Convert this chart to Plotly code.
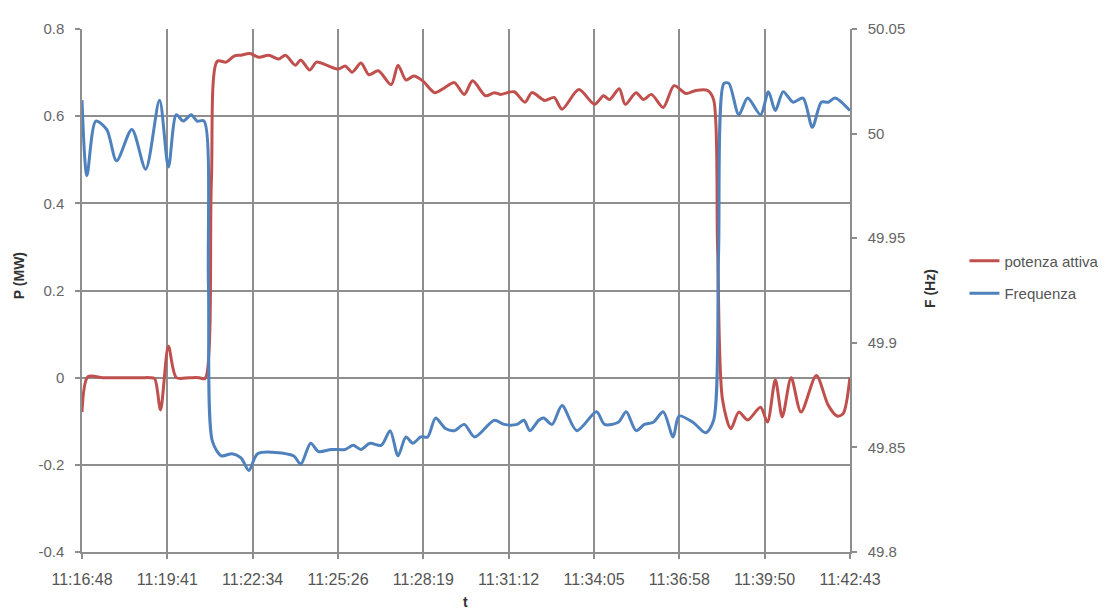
import plotly.graph_objects as go
import pandas as pd

DAY = "2012-05-10 "

# potenza attiva (MW)
p_time = ["11:16:48", "11:17:00", "11:17:30", "11:18:00", "11:18:30", "11:18:50", "11:19:05",
          "11:19:15", "11:19:27", "11:19:43", "11:19:59",
          "11:20:25", "11:20:45", "11:20:57", "11:21:10", "11:21:22", "11:21:40", "11:21:56",
          "11:22:10", "11:22:28", "11:22:46", "11:23:06", "11:23:26", "11:23:40", "11:24:00",
          "11:24:11", "11:24:29", "11:24:43", "11:25:03", "11:25:27", "11:25:41", "11:25:55",
          "11:26:13", "11:26:29", "11:26:48", "11:27:14", "11:27:28", "11:27:44", "11:28:00",
          "11:28:18", "11:28:42", "11:29:02", "11:29:22", "11:29:42", "11:29:59", "11:30:25",
          "11:30:43", "11:30:55", "11:31:23", "11:31:45", "11:31:59", "11:32:25", "11:32:44",
          "11:33:00", "11:33:34", "11:34:06", "11:34:24", "11:34:36", "11:34:56", "11:35:08",
          "11:35:30", "11:35:45", "11:36:01", "11:36:25", "11:36:47", "11:37:11", "11:37:31",
          "11:37:55", "11:38:07", "11:38:15", "11:38:25", "11:38:42", "11:38:58", "11:39:16",
          "11:39:42", "11:39:56", "11:40:12", "11:40:26", "11:40:44", "11:41:04", "11:41:35",
          "11:41:59", "11:42:17", "11:42:29", "11:42:43"]
p_mw = [-0.079, 0.002, 0.0, 0.0, 0.0, 0.0, 0.0,
        -0.002, -0.074, 0.072, 0.0,
        0.0, 0.0, -0.002, 0.45, 0.726, 0.724, 0.738,
        0.740, 0.744, 0.735, 0.740, 0.731, 0.740, 0.717,
        0.729, 0.706, 0.724, 0.717, 0.708, 0.715, 0.701,
        0.722, 0.695, 0.704, 0.672, 0.717, 0.683, 0.692,
        0.681, 0.654, 0.665, 0.677, 0.650, 0.681, 0.647,
        0.654, 0.650, 0.656, 0.632, 0.654, 0.636, 0.643,
        0.616, 0.661, 0.627, 0.647, 0.638, 0.663, 0.627,
        0.654, 0.638, 0.650, 0.620, 0.670, 0.652, 0.659,
        0.659, 0.638, 0.30, -0.05, -0.117, -0.079, -0.097,
        -0.068, -0.102, -0.005, -0.090, 0.000, -0.079, 0.005,
        -0.063, -0.088, -0.083, 0.000]

# Frequenza (Hz)
f_time = ["11:16:48", "11:16:58", "11:17:16", "11:17:38", "11:17:58", "11:18:29", "11:18:57",
          "11:19:25", "11:19:43", "11:19:59", "11:20:13", "11:20:29", "11:20:41", "11:20:55",
          "11:21:04", "11:21:12", "11:21:30", "11:21:52", "11:22:10", "11:22:26", "11:22:44",
          "11:23:56", "11:24:11", "11:24:31", "11:24:47", "11:25:13", "11:25:41", "11:25:57",
          "11:26:13", "11:26:31", "11:26:54", "11:27:12", "11:27:28", "11:27:44", "11:27:58",
          "11:28:14", "11:28:28", "11:28:44", "11:29:04", "11:29:22", "11:29:42", "11:30:03",
          "11:30:43", "11:31:03", "11:31:29", "11:31:43", "11:31:55", "11:32:13", "11:32:23",
          "11:32:40", "11:33:00", "11:33:30", "11:34:10", "11:34:26", "11:34:54", "11:35:10",
          "11:35:30", "11:35:47", "11:36:05", "11:36:25", "11:36:45", "11:36:57", "11:37:25",
          "11:37:51", "11:38:07", "11:38:17", "11:38:28", "11:38:38", "11:38:58", "11:39:16",
          "11:39:42", "11:39:58", "11:40:12", "11:40:28", "11:40:48", "11:41:08", "11:41:27",
          "11:41:45", "11:41:59", "11:42:13", "11:42:43"]
f_hz = [50.016, 49.980, 50.006, 50.002, 49.987, 50.002, 49.983,
        50.016, 49.984, 50.009, 50.006, 50.009, 50.006, 50.006,
        49.928, 49.853, 49.846, 49.847, 49.845, 49.839, 49.847,
        49.846, 49.842, 49.852, 49.848, 49.849, 49.849, 49.851,
        49.849, 49.852, 49.851, 49.858, 49.846, 49.855, 49.852,
        49.855, 49.855, 49.864, 49.859, 49.858, 49.861, 49.855,
        49.863, 49.861, 49.861, 49.863, 49.858, 49.863, 49.864,
        49.861, 49.870, 49.858, 49.867, 49.861, 49.862, 49.867,
        49.858, 49.861, 49.862, 49.867, 49.855, 49.865, 49.862,
        49.857, 49.863, 49.942, 50.024, 50.024, 50.009, 50.017,
        50.009, 50.020, 50.011, 50.020, 50.015, 50.017, 50.003,
        50.015, 50.015, 50.017, 50.011]

x_tick_labels = ["11:16:48", "11:19:41", "11:22:34", "11:25:26", "11:28:19",
                 "11:31:12", "11:34:05", "11:36:58", "11:39:50", "11:42:43"]
p_ticks = [-0.4, -0.2, 0, 0.2, 0.4, 0.6, 0.8]
p_tick_labels = ["-0.4", "-0.2", "0", "0.2", "0.4", "0.6", "0.8"]
f_ticks = [49.8, 49.85, 49.9, 49.95, 50.0, 50.05]
f_tick_labels = ["49.8", "49.85", "49.9", "49.95", "50", "50.05"]

RED = "#C0504D"
BLUE = "#4F81BD"
GRID = "#8E8E8E"
FAMILY = "Liberation Sans, Arial, sans-serif"
TICKFONT = dict(family=FAMILY, size=15, color="#666666")
XTICKFONT = dict(family=FAMILY, size=16, color="#555555")
TITLEFONT = dict(family=FAMILY, size=14, color="#333333")

start = pd.Timestamp(DAY + x_tick_labels[0])
# Excel date axis: major unit 0.002 day
tick_vals = [(start + pd.Timedelta(seconds=172.8 * k)).strftime("%Y-%m-%d %H:%M:%S.%f")
             for k in range(len(x_tick_labels))]

fig = go.Figure()
fig.add_trace(go.Scatter(
    x=[DAY + t for t in p_time], y=p_mw, name="potenza attiva", mode="lines",
    line=dict(color=RED, width=3, shape="spline", smoothing=0.8),
    legendgroup="p", yaxis="y"))
fig.add_trace(go.Scatter(
    x=[DAY + t for t in f_time], y=f_hz, name="Frequenza", mode="lines",
    line=dict(color=BLUE, width=3, shape="spline", smoothing=0.8),
    legendgroup="f", yaxis="y2"))

fig.update_layout(
    width=1109, height=603,
    margin=dict(l=74, r=262, t=12, b=59),
    paper_bgcolor="white", plot_bgcolor="white",
    showlegend=True,
    legend=dict(x=1.149, y=0.588, xanchor="left", yanchor="top",
                font=dict(family=FAMILY, size=15, color="#555555"),
                tracegroupgap=10, bgcolor="rgba(0,0,0,0)"),
    xaxis=dict(type="date", range=[tick_vals[0], tick_vals[-1]],
               tickmode="array", tickvals=tick_vals, ticktext=x_tick_labels,
               showgrid=True, gridcolor=GRID, gridwidth=1.5,
               showline=True, linecolor=GRID, linewidth=1.5,
               ticks="outside", ticklen=5, tickcolor=GRID, tickwidth=1.5,
               tickfont=XTICKFONT, ticklabelstandoff=7, zeroline=False),
    yaxis=dict(range=[-0.4, 0.8], tickmode="array", tickvals=p_ticks, ticktext=p_tick_labels,
               showgrid=True, gridcolor=GRID, gridwidth=1.5,
               showline=True, linecolor=GRID, linewidth=1.5,
               ticks="outside", ticklen=5, tickcolor=GRID, tickwidth=1.5,
               tickfont=TICKFONT, ticklabelstandoff=8, zeroline=False),
    yaxis2=dict(range=[49.8, 50.05], overlaying="y", side="right",
                tickmode="array", tickvals=f_ticks, ticktext=f_tick_labels,
                showgrid=False, showline=True, linecolor=GRID, linewidth=1.5,
                ticks="outside", ticklen=5, tickcolor=GRID, tickwidth=1.5,
                tickfont=TICKFONT, ticklabelstandoff=8, zeroline=False),
    annotations=[
        dict(text="<b>P (MW)</b>", xref="paper", yref="paper", x=(18 - 82) / 773, y=(552 - 271) / 532,
             xanchor="center", yanchor="middle", showarrow=False, textangle=-90, font=TITLEFONT),
        dict(text="<b>F (Hz)</b>", xref="paper", yref="paper", x=(935 - 82) / 773, y=(552 - 284) / 532,
             xanchor="center", yanchor="middle", showarrow=False, textangle=-90, font=TITLEFONT),
        dict(text="<b>t</b>", xref="paper", yref="paper", x=(468 - 82) / 773, y=(552 - 603) / 532,
             xanchor="center", yanchor="middle", showarrow=False, font=TITLEFONT),
    ],
)

fig.write_html("out.html")
